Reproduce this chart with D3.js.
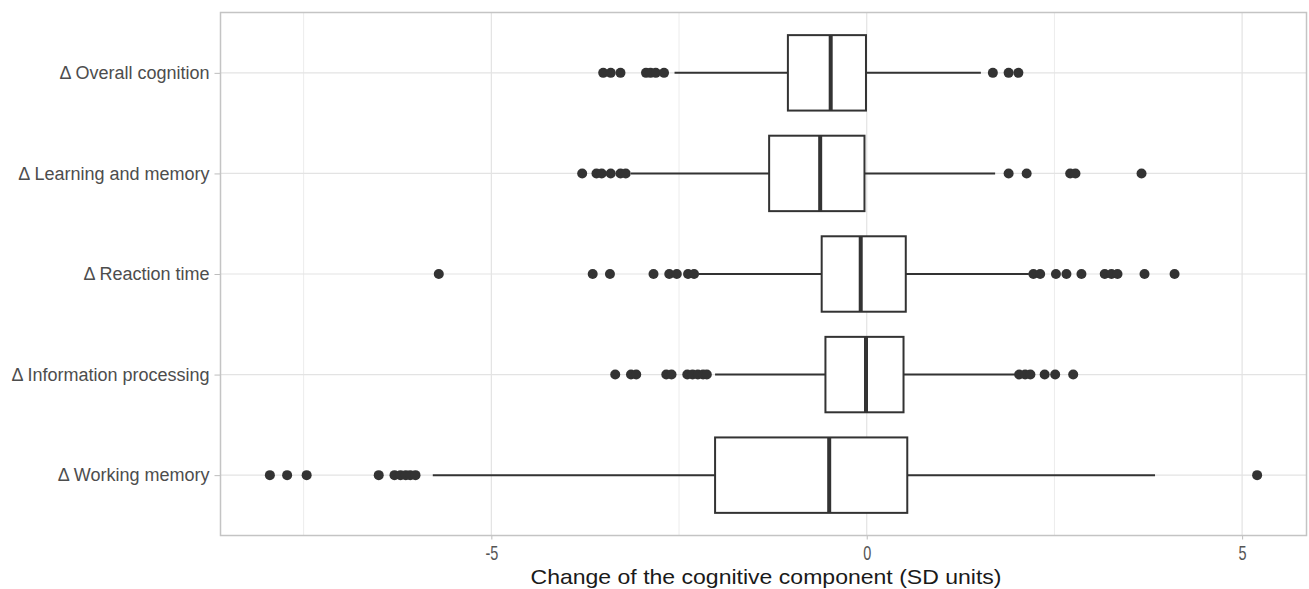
<!DOCTYPE html>
<html>
<head>
  <meta charset="UTF-8">
  <title>Change of cognitive components</title>
  <style>
    body { margin: 0; background: #fff; }
    text { font-family: "Liberation Sans", Arial, sans-serif; }
  </style>
</head>
<body>
<svg id="chart"></svg>
<script src="https://d3js.org/d3.v7.min.js"></script>
<script>

// categories, top to bottom
var components = ["\u0394 Overall cognition", "\u0394 Learning and memory", "\u0394 Reaction time",
                  "\u0394 Information processing", "\u0394 Working memory"]

// box stats: lower whisker, Q1, median, Q3, upper whisker
var whiskerLow  = [-2.56, -3.14, -2.24, -2.02, -5.78]
var q1          = [-1.05, -1.30, -0.60, -0.55, -2.02]
var medians     = [-0.48, -0.62, -0.08, -0.01, -0.50]
var q3          = [-0.01, -0.03,  0.52,  0.49,  0.54]
var whiskerHigh = [ 1.52,  1.71,  2.16,  1.99,  3.84]

// outliers per component
var outliers = [
    [-3.51, -3.41, -3.28, -2.94, -2.88, -2.81, -2.70, 1.68, 1.89, 2.02],
    [-3.79, -3.60, -3.53, -3.41, -3.28, -3.21, 1.89, 2.13, 2.71, 2.78, 3.66],
    [-5.70, -3.65, -3.42, -2.84, -2.63, -2.53, -2.38, -2.30,
      2.22, 2.31, 2.52, 2.66, 2.86, 3.17, 3.26, 3.34, 3.70, 4.10],
    [-3.35, -3.14, -3.07, -2.67, -2.60, -2.39, -2.32, -2.25, -2.18, -2.13,
      2.03, 2.11, 2.18, 2.37, 2.51, 2.75],
    [-7.95, -7.72, -7.46, -6.50, -6.29, -6.21, -6.14, -6.08, -6.01, 5.20]
]

var xTicks = [-5, 0, 5]
var xMinor = [-7.5, -2.5, 2.5]

var width = 1309, height = 589
var margin = {top: 12.5, right: 2.5, bottom: 53.5, left: 220.5}

var svg = d3.select("#chart").attr("width", width).attr("height", height)

var boxes = components.map(function(c, i) {
    return {name: c, lo: whiskerLow[i], q1: q1[i], med: medians[i], q3: q3[i], hi: whiskerHigh[i], out: outliers[i]}
})

// ggplot-like 5% expansion around the data range
var allVals = d3.merge(outliers).concat(whiskerLow, whiskerHigh)
var lo = d3.min(allVals), hi = d3.max(allVals), pad = (hi - lo) * 0.05

var x = d3.scaleLinear()
    .domain([lo - pad, hi + pad])
    .range([margin.left, width - margin.right])

var y = d3.scalePoint()
    .domain(components)
    .range([margin.top, height - margin.bottom])
    .padding(0.6)

var step = y.step()

var grid = svg.append("g")
grid.selectAll(".minor")
    .data(xMinor)
    .enter().append("line")
    .attr("x1", function(d){ return x(d) }).attr("x2", function(d){ return x(d) })
    .attr("y1", margin.top).attr("y2", height - margin.bottom)
    .attr("stroke", "#ececec").attr("stroke-width", 1)
grid.selectAll(".major")
    .data(xTicks)
    .enter().append("line")
    .attr("x1", function(d){ return x(d) }).attr("x2", function(d){ return x(d) })
    .attr("y1", margin.top).attr("y2", height - margin.bottom)
    .attr("stroke", "#e3e3e3").attr("stroke-width", 1.2)
grid.selectAll(".hgrid")
    .data(components)
    .enter().append("line")
    .attr("x1", margin.left).attr("x2", width - margin.right)
    .attr("y1", function(d){ return y(d) }).attr("y2", function(d){ return y(d) })
    .attr("stroke", "#e3e3e3").attr("stroke-width", 1.2)

// axes
var xAxis = svg.append("g")
    .attr("transform", "translate(0," + (height - margin.bottom) + ")")
    .call(d3.axisBottom(x).tickValues(xTicks).tickSize(4).tickPadding(5).tickFormat(function(d){ return String(d) }))
xAxis.select(".domain").remove()
xAxis.selectAll("line").attr("stroke", "#bdbdbd")
xAxis.selectAll("text").attr("fill", "#555").style("font-size", "17px")
    .attr("transform", "scale(0.85,1.15)")

var yAxis = svg.append("g")
    .attr("transform", "translate(" + margin.left + ",0)")
    .call(d3.axisLeft(y).tickSize(6).tickPadding(5))
yAxis.select(".domain").remove()
yAxis.selectAll("line").attr("stroke", "#bdbdbd")
yAxis.selectAll("text").attr("fill", "#4d4d4d").style("font-size", "18px")

// boxplots
var g = svg.append("g").selectAll("g")
    .data(boxes)
    .enter().append("g")
    .attr("transform", function(d){ return "translate(0," + y(d.name) + ")" })

var bh = step * 0.75

g.append("line")
    .attr("x1", function(d){ return x(d.lo) }).attr("x2", function(d){ return x(d.q1) })
    .attr("stroke", "#333").attr("stroke-width", 2)
g.append("line")
    .attr("x1", function(d){ return x(d.q3) }).attr("x2", function(d){ return x(d.hi) })
    .attr("stroke", "#333").attr("stroke-width", 2)
g.append("rect")
    .attr("x", function(d){ return x(d.q1) })
    .attr("y", -bh / 2)
    .attr("width", function(d){ return x(d.q3) - x(d.q1) })
    .attr("height", bh)
    .attr("fill", "#fff").attr("stroke", "#333").attr("stroke-width", 2)
g.append("line")
    .attr("x1", function(d){ return x(d.med) }).attr("x2", function(d){ return x(d.med) })
    .attr("y1", -bh / 2).attr("y2", bh / 2)
    .attr("stroke", "#333").attr("stroke-width", 4)
g.selectAll("circle")
    .data(function(d){ return d.out })
    .enter().append("circle")
    .attr("cx", function(d){ return x(d) })
    .attr("cy", 0)
    .attr("r", 5)
    .attr("fill", "#333")

// panel border
svg.append("rect")
    .attr("x", margin.left).attr("y", margin.top)
    .attr("width", width - margin.left - margin.right)
    .attr("height", height - margin.top - margin.bottom)
    .attr("fill", "none").attr("stroke", "#c4c4c4").attr("stroke-width", 1.5)

// axis title
svg.append("text")
    .attr("x", 766).attr("y", 584)
    .attr("text-anchor", "middle")
    .attr("fill", "#1a1a1a")
    .style("font-size", "21px")
    .attr("textLength", 471)
    .attr("lengthAdjust", "spacingAndGlyphs")
    .text("Change of the cognitive component (SD units)")

</script>
</body>
</html>
